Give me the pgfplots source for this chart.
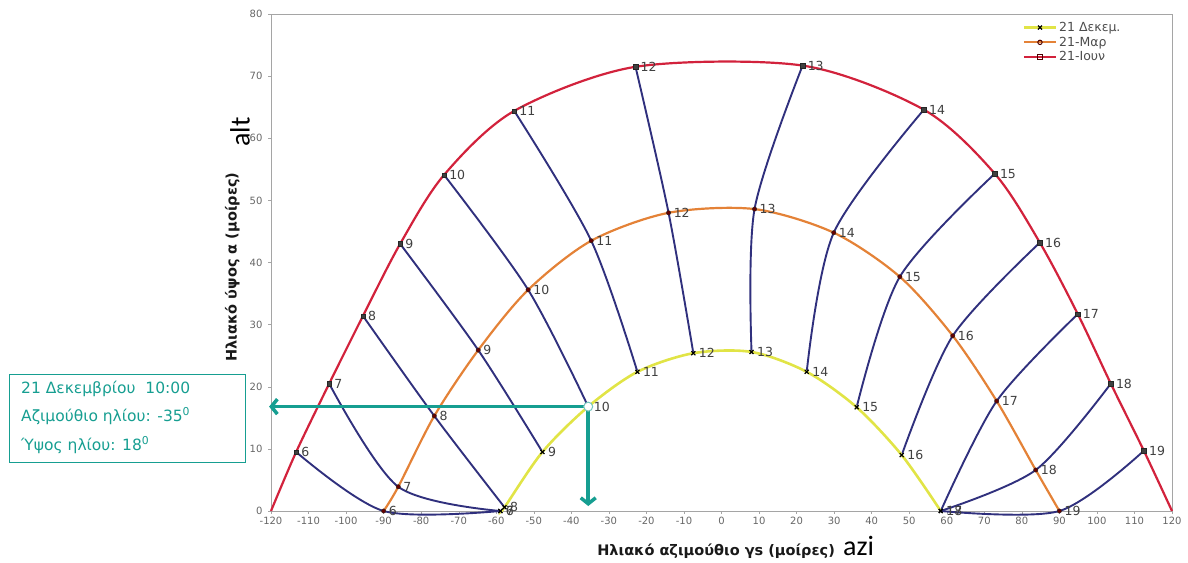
\documentclass[border=0pt]{standalone}
\usepackage{pgfplots}
\pgfplotsset{compat=1.18}
\usepackage{pgfplotstable}
\usepackage{fontspec}
\setmainfont{DejaVu Sans}
\newfontfamily\calib{Carlito}
\usetikzlibrary{arrows.meta}

\definecolor{junred}{RGB}{210,34,60}
\definecolor{marorange}{RGB}{228,130,55}
\definecolor{decyellow}{RGB}{225,228,70}
\definecolor{hournavy}{RGB}{48,48,125}
\definecolor{anntoteal}{RGB}{22,158,145}
\definecolor{framegray}{RGB}{165,165,165}

% sun position at each hour: azimuth, altitude, hour
\pgfplotstableread{
x y h
-113.3 9.5 6
-104.5 20.5 7
-95.5 31.4 8
-85.6 43.0 9
-73.9 54.1 10
-55.2 64.4 11
-22.9 71.5 12
21.6 71.7 13
53.9 64.6 14
72.8 54.3 15
84.8 43.2 16
94.9 31.7 17
103.7 20.5 18
112.5 9.7 19
}\juntab

\pgfplotstableread{
x y h
-90.0 0.0 6
-86.1 3.9 7
-76.5 15.3 8
-64.8 25.9 9
-51.5 35.6 10
-34.7 43.5 11
-14.1 48.0 12
8.8 48.6 13
29.9 44.8 14
47.5 37.7 15
61.6 28.2 16
73.3 17.7 17
83.7 6.6 18
90.0 0.0 19
}\martab

\pgfplotstableread{
x y h
-58.9 0.0 6
-58.9 0.0 7
-57.8 0.6 8
-47.7 9.5 9
-35.5 16.8 10
-22.4 22.4 11
-7.5 25.4 12
8.0 25.6 13
22.7 22.4 14
36.0 16.7 15
48.0 9.0 16
58.4 0.0 17
58.4 0.0 18
}\dectab

\begin{document}
\begin{tikzpicture}
\useasboundingbox (-271pt,-51pt) rectangle (917pt,511pt);
\begin{axis}[
  at={(0,0)}, anchor=south west,
  scale only axis, width=901pt, height=497pt,
  xmin=-120, xmax=120, ymin=0, ymax=80,
  xtick distance=10, ytick distance=10,
  axis line style={framegray, line width=0.8pt},
  tick style={framegray, thin},
  tick align=outside, major tick length=3pt,
  xtick pos=bottom, ytick pos=left,
  tick label style={font=\fontsize{10}{11}\selectfont, text=black!60},
  yticklabel style={xshift=-2pt},
  /pgf/number format/assume math mode=true,
  xlabel={Ηλιακό αζιμούθιο γs (μοίρες)},
  ylabel={Ηλιακό ύψος α (μοίρες)},
  xlabel style={font=\bfseries\fontsize{14.5}{16}\selectfont, text=black!90,
    at={(axis description cs:0.494,-0.08)}, anchor=center},
  ylabel style={font=\bfseries\fontsize{14.5}{16}\selectfont, text=black!90,
    at={(axis description cs:-0.043,0.491)}, anchor=center},
  legend style={at={(rel axis cs:0.833,0.99)}, anchor=north west,
    draw=none, fill=none, font=\fontsize{12.5}{13}\selectfont,
    text=black!70, row sep=0pt, inner sep=1pt},
  legend cell align=left,
  legend image code/.code={
    \draw[mark repeat=2, mark phase=2] plot coordinates {(0pt,0pt) (16pt,0pt) (32pt,0pt)};},
  nodes near coords style={anchor=west, font=\fontsize{12.5}{13}\selectfont,
    text=black!75, inner sep=1pt, xshift=4pt},
  clip=false,
]
% legend
\addlegendimage{decyellow, line width=2.5pt, mark=x, mark options={black, line width=1.2pt, mark size=2.8pt}}
\addlegendentry{21 Δεκεμ.}
\addlegendimage{marorange, line width=2pt, mark=o, mark options={black!70!red, line width=1pt, mark size=2.2pt}}
\addlegendentry{21-Μαρ}
\addlegendimage{junred, line width=2pt, mark=square, mark options={black!70!red, line width=1pt, mark size=2.2pt}}
\addlegendentry{21-Ιουν}

% hour lines: 21 June -> 21 March -> 21 December
\pgfplotsset{hourline/.style={hournavy, line width=1.9pt, smooth, no marks, forget plot}}
\addplot[hourline] coordinates {(-113.3,9.5) (-90.0,0.0) (-58.9,0.0)};
\addplot[hourline] coordinates {(-104.5,20.5) (-86.1,3.9) (-58.9,0.0)};
\addplot[hourline] coordinates {(-95.5,31.4) (-76.5,15.3) (-57.8,0.6)};
\addplot[hourline] coordinates {(-85.6,43.0) (-64.8,25.9) (-47.7,9.5)};
\addplot[hourline] coordinates {(-73.9,54.1) (-51.5,35.6) (-35.5,16.8)};
\addplot[hourline] coordinates {(-55.2,64.4) (-34.7,43.5) (-22.4,22.4)};
\addplot[hourline] coordinates {(-22.9,71.5) (-14.1,48.0) (-7.5,25.4)};
\addplot[hourline] coordinates {(21.6,71.7) (8.8,48.6) (8.0,25.6)};
\addplot[hourline] coordinates {(53.9,64.6) (29.9,44.8) (22.7,22.4)};
\addplot[hourline] coordinates {(72.8,54.3) (47.5,37.7) (36.0,16.7)};
\addplot[hourline] coordinates {(84.8,43.2) (61.6,28.2) (48.0,9.0)};
\addplot[hourline] coordinates {(94.9,31.7) (73.3,17.7) (58.4,0.0)};
\addplot[hourline] coordinates {(103.7,20.5) (83.7,6.6) (58.4,0.0)};
\addplot[hourline] coordinates {(112.5,9.7) (90.0,0.0) (58.4,0.0)};

% day curves
\addplot[junred, line width=2.2pt, smooth, no marks, forget plot] coordinates {
  (-120,0) (-113.3,9.5) (-104.5,20.5) (-95.5,31.4) (-85.6,43.0) (-73.9,54.1)
  (-55.2,64.4) (-22.9,71.5) (21.6,71.7) (53.9,64.6) (72.8,54.3) (84.8,43.2)
  (94.9,31.7) (103.7,20.5) (112.5,9.7) (120,0)};
\addplot[marorange, line width=2.2pt, smooth, no marks, forget plot] coordinates {
  (-90.0,0.0) (-86.1,3.9) (-76.5,15.3) (-64.8,25.9) (-51.5,35.6) (-34.7,43.5)
  (-14.1,48.0) (8.8,48.6) (29.9,44.8) (47.5,37.7) (61.6,28.2) (73.3,17.7)
  (83.7,6.6) (90.0,0.0)};
\addplot[decyellow, line width=2.6pt, smooth, no marks, forget plot] coordinates {
  (-58.9,0.0) (-57.8,0.6) (-47.7,9.5) (-35.5,16.8) (-22.4,22.4) (-7.5,25.4)
  (8.0,25.6) (22.7,22.4) (36.0,16.7) (48.0,9.0) (58.4,0.0)};

% hour markers with labels
\addplot[only marks, mark=square*, mark size=2.2pt, mark options={draw=black!85, fill=black!75},
  nodes near coords, point meta=explicit symbolic, forget plot] table[meta=h] {\juntab};
\addplot[only marks, mark=*, mark size=2.2pt, mark options={draw=black!85, fill=black!60!red},
  nodes near coords, point meta=explicit symbolic, forget plot] table[meta=h] {\martab};
\addplot[only marks, mark=x, mark size=2.8pt, mark options={black, line width=1.2pt},
  nodes near coords, point meta=explicit symbolic, forget plot] table[meta=h] {\dectab};

% highlighted position: 21 December, 10:00
\addplot[anntoteal, line width=3.5pt, -{Straight Barb[length=6pt,width=15pt]}, forget plot]
  coordinates {(-35.5,16.8) (-120.5,16.8)};
\addplot[anntoteal, line width=3.5pt, -{Straight Barb[length=6pt,width=15pt]}, forget plot]
  coordinates {(-35.5,16.8) (-35.5,0.8)};
\addplot[only marks, mark=*, mark size=4.5pt, mark options={draw=anntoteal!60, fill=white, line width=1pt},
  forget plot] coordinates {(-35.5,16.8)};
\end{axis}

% annotation box
\draw[anntoteal, line width=1pt] (-261pt,49pt) rectangle (-26pt,136pt);
\node[anchor=west, text=anntoteal, font=\fontsize{15.5}{17}\selectfont, inner sep=0pt] at (-250pt,122pt) {21 Δεκεμβρίου\ \ 10:00};
\node[anchor=west, text=anntoteal, font=\fontsize{15.5}{17}\selectfont, inner sep=0pt] at (-250pt,95pt) {Αζιμούθιο ηλίου: -35\textsuperscript{0}};
\node[anchor=west, text=anntoteal, font=\fontsize{15.5}{17}\selectfont, inner sep=0pt] at (-250pt,66pt) {Ύψος ηλίου: 18\textsuperscript{0}};

% extra hand-written labels
\node[rotate=90, font=\calib\fontsize{28}{30}\selectfont, inner sep=0pt] at (-31pt,379pt) {alt};
\node[anchor=base west, font=\calib\fontsize{28}{30}\selectfont, inner sep=0pt] at (572pt,-44pt) {azi};
\end{tikzpicture}
\end{document}
